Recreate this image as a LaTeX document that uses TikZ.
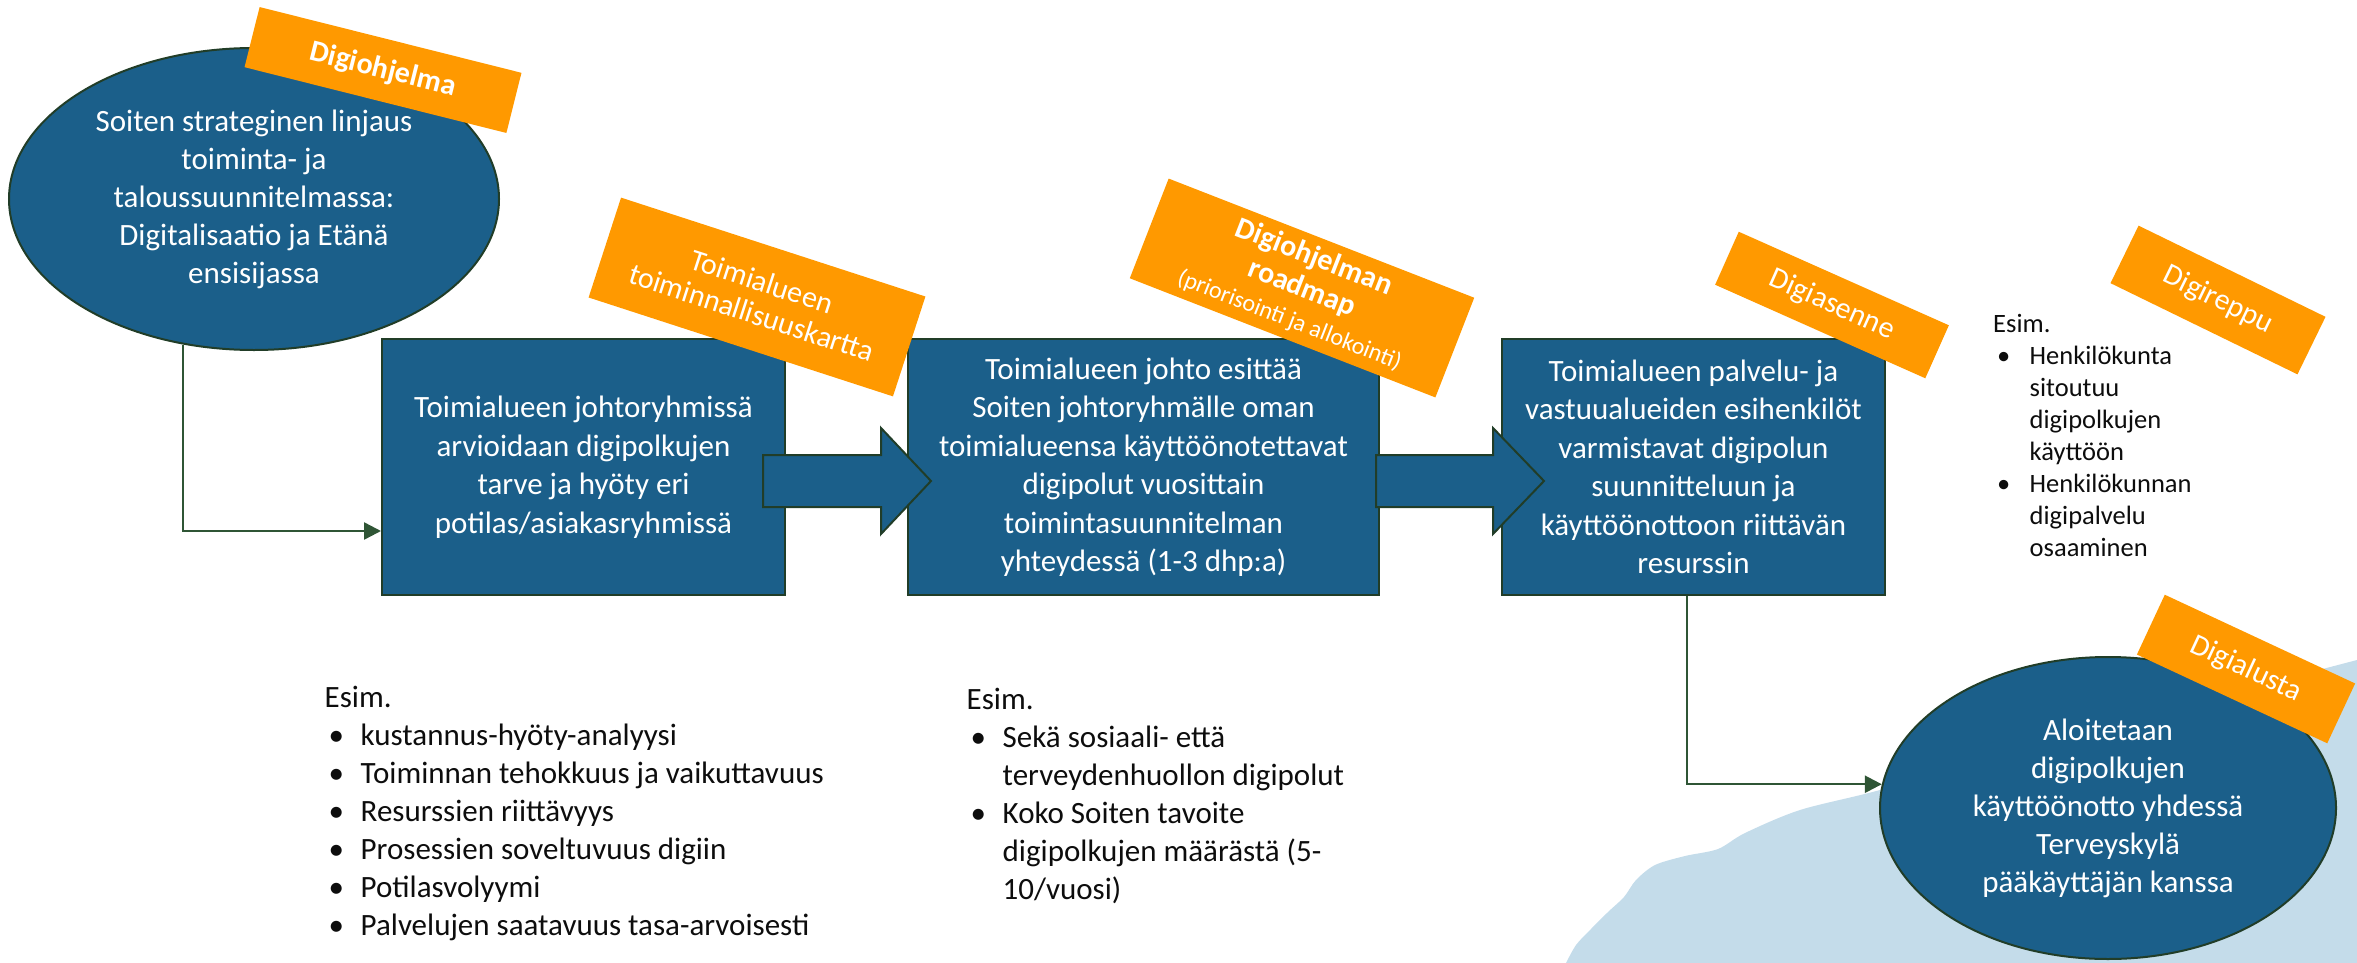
\documentclass[tikz,border=0pt]{standalone}
\usepackage{fontspec}
\setmainfont{Carlito}
\usetikzlibrary{shapes.geometric, arrows.meta}

\definecolor{soteblue}{HTML}{1B5F8A}
\definecolor{edgegreen}{HTML}{213D28}
\definecolor{conngreen}{HTML}{2F5535}
\definecolor{tagorange}{HTML}{FF9900}
\definecolor{blobblue}{HTML}{C4DCEA}
\definecolor{inkblack}{HTML}{0D0D0D}

\newcommand{\notebullet}[1]{\makebox[#1][l]{\hspace{4pt}•}}

\begin{document}
\begin{tikzpicture}[x=1pt, y=-1pt,
  stepbox/.style={draw=edgegreen, line width=2pt, fill=soteblue, text=white, align=center,
    inner sep=0pt, minimum height=256pt, font=\fontsize{31}{38.5}\selectfont},
  oval/.style={ellipse, draw=edgegreen, line width=2pt, fill=soteblue, text=white, align=center,
    inner sep=0pt, font=\fontsize{31}{38}\selectfont},
  tag/.style={fill=tagorange, text=white, align=center, inner sep=0pt,
    font=\fontsize{30}{33}\selectfont},
  blockarrow/.style={draw=edgegreen, line width=2pt, fill=soteblue, line join=miter},
  conn/.style={draw=conngreen, line width=2.5pt, -{Triangle[length=17pt, width=17pt]}},
  notes/.style={text=inkblack, align=left, inner sep=0pt, anchor=north west,
    font=\fontsize{31}{38}\selectfont},
]
\useasboundingbox (0,0) rectangle (2357,963);

% light blue background blob
\fill[blobblue] plot[smooth] coordinates {(1566,963) (1576,945) (1590,930) (1608,912) (1624,897)
  (1636,880) (1655,865) (1685,856) (1718,849) (1745,833) (1800,810) (1880,790) (2000,755)
  (2150,715) (2300,675) (2357,660)} -- (2357,963) -- cycle;

% main shapes
\node[oval, minimum width=490pt, minimum height=302pt] (e1) at (254,199)
  {Soiten strateginen linjaus\\toiminta- ja\\taloussuunnitelmassa:\\Digitalisaatio ja Etänä\\ensisijassa};

\node[stepbox, minimum width=403pt] (b1) at (583.5,467)
  {Toimialueen johtoryhmissä\\arvioidaan digipolkujen\\tarve ja hyöty eri\\potilas/asiakasryhmissä};
\node[stepbox, minimum width=471pt] (b2) at (1143.5,467)
  {Toimialueen johto esittää\\Soiten johtoryhmälle oman\\toimialueensa käyttöönotettavat\\digipolut vuosittain\\toimintasuunnitelman\\yhteydessä (1-3 dhp:a)};
\node[stepbox, minimum width=383pt] (b3) at (1693.5,467)
  {Toimialueen palvelu- ja\\vastuualueiden esihenkilöt\\varmistavat digipolun\\suunnitteluun ja\\käyttöönottoon riittävän\\resurssin};

\node[oval, minimum width=456pt, minimum height=302pt] (e2) at (2108,808)
  {Aloitetaan\\digipolkujen\\käyttöönotto yhdessä\\Terveyskylä\\pääkäyttäjän kanssa};

% connectors
\draw[conn] (e1.244.6) |- ([yshift=-64pt]b1.west);
\draw[conn] ([xshift=-6.5pt]b3.south) |- (e2.174.7);

% block arrows
\draw[blockarrow] (763,455) -- (881,455) -- (881,428) -- (931,481) -- (881,534) -- (881,507) -- (763,507) -- cycle;
\draw[blockarrow] (1376,455) -- (1493,455) -- (1493,428) -- (1544,481) -- (1493,534) -- (1493,507) -- (1376,507) -- cycle;

% orange tags
\node[tag, font=\fontsize{30}{33}\selectfont\bfseries, minimum width=270pt, minimum height=62pt, rotate=-14.1] (t1) at (383,70) {Digiohjelma};
\node[tag, minimum width=320pt, minimum height=105pt, rotate=-18] (t2) at (757,297) {Toimialueen\\toiminnallisuuskartta};
\node[tag, minimum width=328pt, minimum height=107pt, rotate=-21.3] (t3) at (1302,288)
  {\textbf{Digiohjelman}\\\textbf{roadmap}\\{\fontsize{24}{27}\selectfont(priorisointi ja allokointi)}};
\node[tag, minimum width=230pt, minimum height=58pt, rotate=-24] (t4) at (1832,305) {Digiasenne};
\node[tag, minimum width=208pt, minimum height=64pt, rotate=-26] (t5) at (2218,300) {Digireppu};
\node[tag, minimum width=210pt, minimum height=66pt, rotate=-25] (t6) at (2246,669) {Digialusta};

% example lists
\node[notes] (n1) at (324.5,681) {\strut Esim.\\
  \notebullet{36pt}kustannus-hyöty-analyysi\\
  \notebullet{36pt}Toiminnan tehokkuus ja vaikuttavuus\\
  \notebullet{36pt}Resurssien riittävyys\\
  \notebullet{36pt}Prosessien soveltuvuus digiin\\
  \notebullet{36pt}Potilasvolyymi\\
  \notebullet{36pt}Palvelujen saatavuus tasa-arvoisesti};

\node[notes] (n2) at (966.5,683) {\strut Esim.\\
  \notebullet{36pt}Sekä sosiaali- että\\
  \hspace*{36pt}terveydenhuollon digipolut\\
  \notebullet{36pt}Koko Soiten tavoite\\
  \hspace*{36pt}digipolkujen määrästä (5-\\
  \hspace*{36pt}10/vuosi)};

\node[notes, font=\fontsize{26.5}{32}\selectfont] (n3) at (1993,310) {\strut Esim.\\
  \notebullet{36.5pt}Henkilökunta\\
  \hspace*{36.5pt}sitoutuu\\
  \hspace*{36.5pt}digipolkujen\\
  \hspace*{36.5pt}käyttöön\\
  \notebullet{36.5pt}Henkilökunnan\\
  \hspace*{36.5pt}digipalvelu\\
  \hspace*{36.5pt}osaaminen};
\end{tikzpicture}
\end{document}
